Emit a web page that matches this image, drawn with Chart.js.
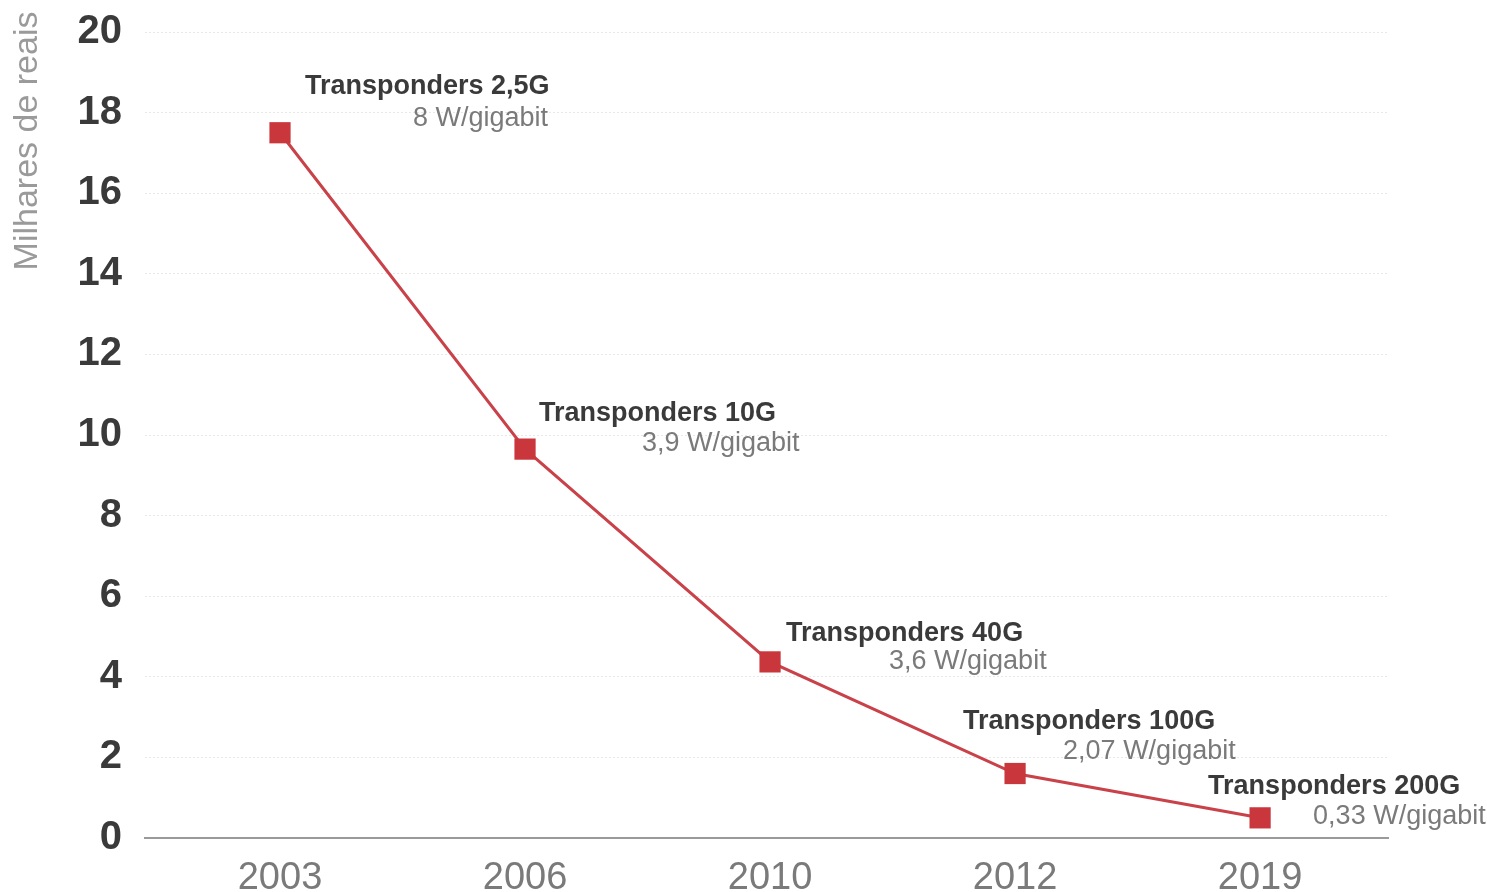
<!DOCTYPE html>
<html>
<head>
<meta charset="utf-8">
<script src="https://cdn.jsdelivr.net/npm/chart.js@4/dist/chart.umd.min.js"></script>
<style>
  html, body { margin: 0; padding: 0; background: #fff; }
  #caixa { width: 1487px; height: 892px; position: relative; }
</style>
</head>
<body>
<div id="caixa"><canvas id="grafico"></canvas></div>
<script>
// dados
const anos = ["2003", "2006", "2010", "2012", "2019"];
const custo = [17.5, 9.65, 4.37, 1.6, 0.5];   // milhares de reais
const transponders = ["Transponders 2,5G", "Transponders 10G", "Transponders 40G", "Transponders 100G", "Transponders 200G"];
const consumo = ["8 W/gigabit", "3,9 W/gigabit", "3,6 W/gigabit", "2,07 W/gigabit", "0,33 W/gigabit"];

// deslocamento dos rotulos em relacao ao ponto [dx, dy] (titulo, consumo)
const desloc = [
    [[25, -46], [133, -14]],
    [[14, -36], [117, -6]],
    [[16, -28], [119, 0]],
    [[-52, -52], [48, -22]],
    [[-52, -31], [53, -1]]
];

const fonte = "'Liberation Sans', Arial, sans-serif";

// pontos: posicao = indice do ano
var pontos = [];
for (var i = 0; i < anos.length; i++) {
    pontos.push({x: i, y: custo[i]});
}

// plugin para escrever os rotulos e o titulo do eixo y
const rotulos = {
    id: 'rotulos',
    afterDatasetsDraw(chart) {
        const ctx = chart.ctx;
        const meta = chart.getDatasetMeta(0);
        ctx.save();
        ctx.textAlign = 'left';
        ctx.textBaseline = 'middle';
        for (var i = 0; i < meta.data.length; i++) {
            var p = meta.data[i];
            ctx.font = "bold 27px " + fonte;
            ctx.fillStyle = '#3a3a3a';
            ctx.fillText(transponders[i], p.x + desloc[i][0][0], p.y + desloc[i][0][1]);
            ctx.font = "27px " + fonte;
            ctx.fillStyle = '#7a7a7a';
            ctx.fillText(consumo[i], p.x + desloc[i][1][0], p.y + desloc[i][1][1]);
        }
        // titulo do eixo y
        ctx.translate(28, 141);
        ctx.rotate(-Math.PI / 2);
        ctx.textAlign = 'center';
        ctx.font = "34px " + fonte;
        ctx.fillStyle = '#9a9a9a';
        ctx.fillText("Milhares de reais", 0, 0);
        ctx.restore();
    }
};

var lineData = {
    datasets: [{
        label: "Custo",
        data: pontos,
        borderColor: "#c9424a",
        backgroundColor: "#c9363c",
        borderWidth: 3,
        pointStyle: 'rect',
        pointRadius: 15,
        pointHoverRadius: 15,
        pointBorderWidth: 0,
        tension: 0,
        fill: false
    }]
};

var lineOptions = {
    responsive: false,
    animation: false,
    layout: {
        padding: { top: 32, right: 99, left: 0, bottom: 0 }
    },
    plugins: {
        legend: { display: false },
        tooltip: { enabled: false }
    },
    scales: {
        x: {
            type: 'linear',
            min: -0.551,
            max: 4.522,
            afterBuildTicks: function (scale) {
                scale.ticks = anos.map(function (a, i) { return {value: i}; });
            },
            grid: { display: false, drawTicks: false },
            border: { display: true, color: '#9a9a9a', width: 2 },
            ticks: {
                color: '#7a7a7a',
                font: { family: fonte, size: 38 },
                padding: 18,
                callback: function (v) { return anos[v]; }
            },
            afterFit: function (scale) { scale.height = 54; }
        },
        y: {
            min: 0,
            max: 20,
            grid: {
                color: function (c) { return c.tick.value === 0 ? 'rgba(0,0,0,0)' : 'rgba(0,0,0,0.09)'; },
                lineWidth: 1,
                drawTicks: false
            },
            border: { display: false, dash: [2, 2] },
            ticks: {
                stepSize: 2,
                color: '#3a3a3a',
                font: { family: fonte, size: 40, weight: 'bold' },
                padding: 23
            },
            afterFit: function (scale) {
                scale.width = 145;
                scale.paddingTop = 0;
                scale.paddingBottom = 0;
            }
        }
    }
};

var canvas = document.getElementById("grafico");
canvas.width = 1487;
canvas.height = 892;
var lineChart = new Chart(canvas, {
    type: 'line',
    data: lineData,
    options: lineOptions,
    plugins: [rotulos]
});
</script>
</body>
</html>
